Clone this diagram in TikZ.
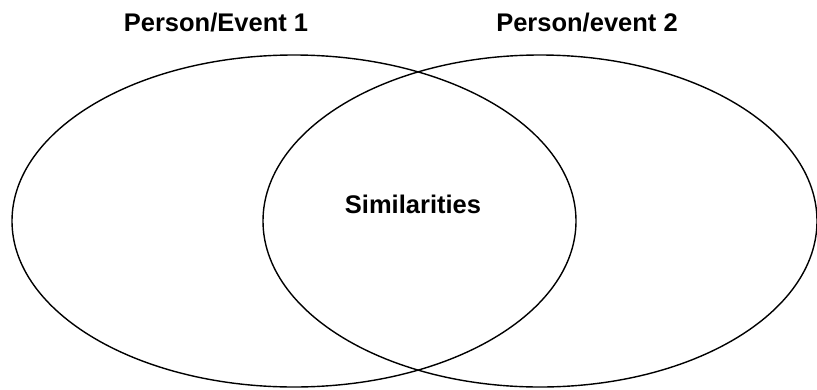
\documentclass[tikz,border=0pt]{standalone}
\usepackage{fontspec}
\setmainfont{Liberation Sans}
\usetikzlibrary{shapes.geometric}
\begin{document}
\begin{tikzpicture}[x=1pt,y=-1pt,
  setel/.style={ellipse, draw=black, line width=1.4pt, inner sep=0pt},
  lbl/.style={font=\fontsize{25.5}{30}\selectfont\bfseries, inner sep=0pt, anchor=base}]
\useasboundingbox (0,0) rectangle (817,389);
\node[setel, minimum width=564pt, minimum height=332pt] (left) at (294,221) {};
\node[setel, minimum width=554pt, minimum height=332pt] (right) at (540,221) {};
\node[lbl] (t1) at (216,31) {Person/Event 1};
\node[lbl] (t2) at (587,31) {Person/event 2};
\node[lbl] (sim) at (413,213) {Similarities};
\end{tikzpicture}
\end{document}
